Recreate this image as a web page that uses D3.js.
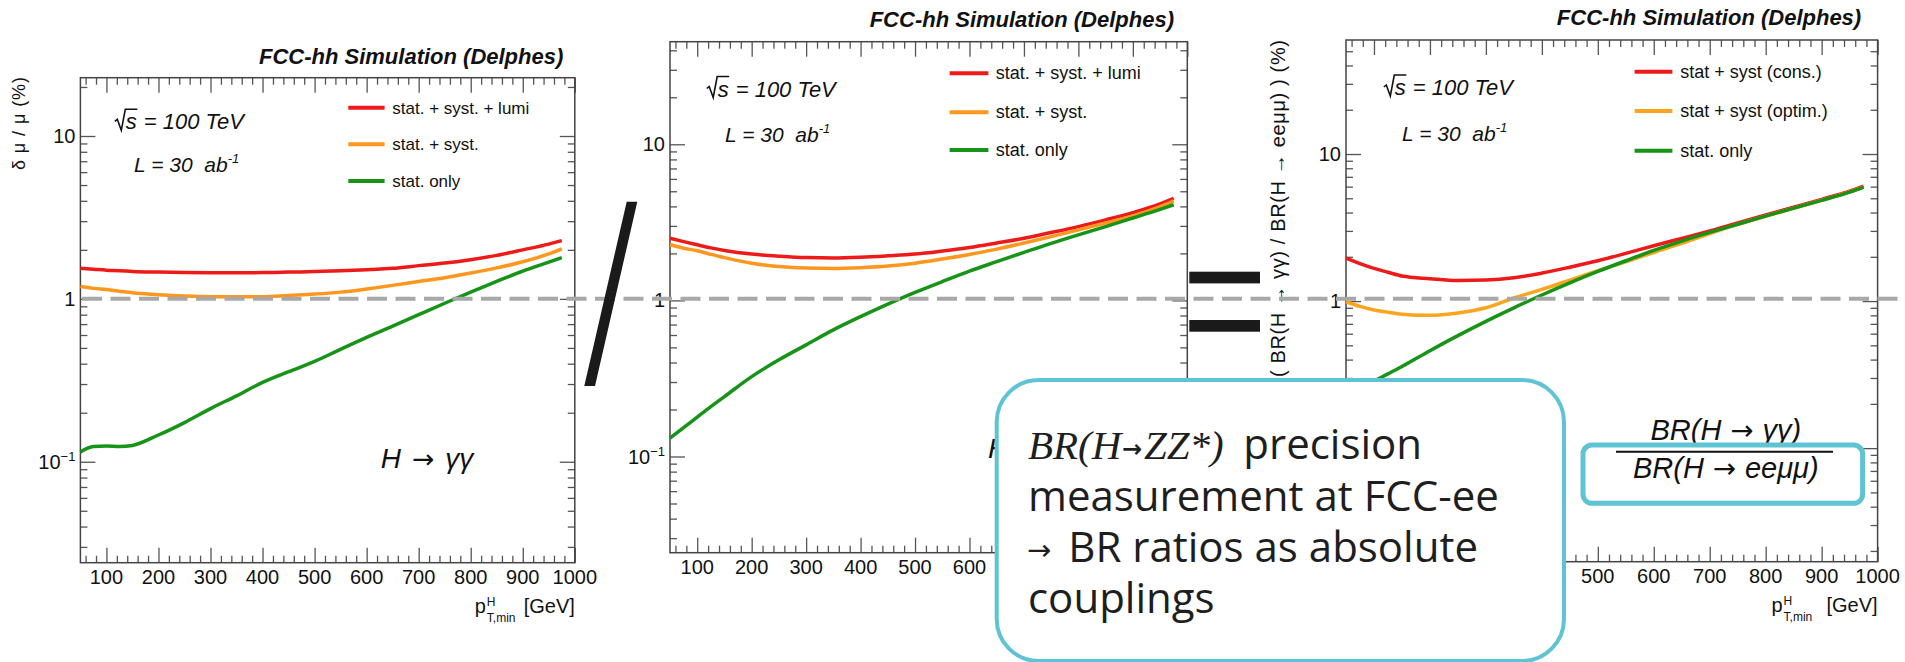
<!DOCTYPE html>
<html>
<head>
<meta charset="utf-8">
<script src="https://cdn.jsdelivr.net/npm/d3@7"></script>
<style>
  body { margin: 0; background: #fff; }
  svg { display: block; }
</style>
</head>
<body>
<div id="chart"></div>
<script>
// ---- data ----
const pT = [50, 75, 100, 125, 150, 200, 250, 300, 350, 400, 450, 500, 550, 600, 650, 700, 750, 800, 850, 900, 950, 975]

// panel 1 : H -> gamma gamma, delta mu / mu (%)
const p1Lumi   = [1.54, 1.52, 1.50, 1.49, 1.475, 1.46, 1.45, 1.445, 1.445, 1.45, 1.46, 1.47, 1.49, 1.51, 1.54, 1.60, 1.66, 1.74, 1.85, 2.00, 2.17, 2.28]
const p1Syst   = [1.19, 1.16, 1.14, 1.115, 1.09, 1.06, 1.04, 1.03, 1.03, 1.03, 1.05, 1.07, 1.10, 1.15, 1.21, 1.28, 1.35, 1.44, 1.55, 1.69, 1.89, 2.03]
const p1Stat   = [0.115, 0.124, 0.125, 0.124, 0.126, 0.146, 0.174, 0.212, 0.254, 0.307, 0.357, 0.413, 0.49, 0.58, 0.68, 0.80, 0.94, 1.10, 1.28, 1.48, 1.68, 1.79]

// panel 2 : second channel
const p2Lumi   = [2.50, 2.38, 2.27, 2.17, 2.09, 1.98, 1.92, 1.88, 1.87, 1.89, 1.93, 1.98, 2.07, 2.18, 2.33, 2.50, 2.72, 2.97, 3.28, 3.65, 4.15, 4.51]
const p2Syst   = [2.27, 2.16, 2.08, 1.97, 1.88, 1.73, 1.65, 1.61, 1.60, 1.62, 1.66, 1.73, 1.84, 1.97, 2.13, 2.33, 2.56, 2.83, 3.13, 3.47, 3.98, 4.34]
const p2Stat   = [0.131, 0.153, 0.179, 0.209, 0.242, 0.325, 0.416, 0.519, 0.647, 0.787, 0.946, 1.125, 1.32, 1.54, 1.77, 2.03, 2.32, 2.63, 2.97, 3.37, 3.83, 4.10]

// panel 3 : ratio BR(H->gg) / BR(H->eemumu)
const p3Cons   = [1.96, 1.80, 1.67, 1.57, 1.48, 1.42, 1.38, 1.39, 1.44, 1.55, 1.70, 1.88, 2.11, 2.38, 2.67, 3.00, 3.40, 3.85, 4.35, 4.92, 5.60, 6.05]
const p3Optim  = [0.99, 0.92, 0.87, 0.84, 0.815, 0.80, 0.83, 0.90, 1.05, 1.20, 1.39, 1.61, 1.85, 2.14, 2.47, 2.88, 3.32, 3.78, 4.28, 4.85, 5.52, 5.98]
const p3Stat   = [0.226, 0.254, 0.286, 0.32, 0.359, 0.460, 0.582, 0.728, 0.90, 1.10, 1.33, 1.59, 1.88, 2.21, 2.56, 2.93, 3.33, 3.78, 4.29, 4.84, 5.50, 5.96]

const xDomain = [50, 1000]
const xMajor = [100, 200, 300, 400, 500, 600, 700, 800, 900, 1000]
const yMajor = [0.1, 1, 10]
const legend12 = ['stat. + syst. + lumi', 'stat. + syst.', 'stat. only']
const legend3 = ['stat + syst (cons.)', 'stat + syst (optim.)', 'stat. only']
const titleText = 'FCC-hh Simulation (Delphes)'
const calloutLines = ['measurement at FCC-ee', 'BR ratios as absolute', 'couplings']

const colors = { red: '#ee1a1a', orange: '#ff961e', orange3: '#f9a51e', green: '#179417' }

const xMinor = d3.range(60, 1000, 20).filter(v => v % 100 !== 0)
const yMinor = []
;[0.01, 0.1, 1, 10].forEach(dec => d3.range(2, 10).forEach(k => yMinor.push(dec * k)))

const sans = '"Liberation Sans", Arial, Helvetica, sans-serif'
const arrowFont = '"DejaVu Sans", sans-serif'

const svg = d3.select('#chart')
  .append('svg')
    .attr('width', 1905)
    .attr('height', 662)
    .style('font-family', sans)

const defs = svg.append('defs')
defs.append('clipPath').attr('id', 'clipY2')
  .append('rect').attr('x', 601).attr('y', 0).attr('width', 60).attr('height', 300)
defs.append('clipPath').attr('id', 'clipH2')
  .append('rect').attr('x', 900).attr('y', 400).attr('width', 96).attr('height', 100)

// "H -> ..." style label, ROOT draws a long arrow
function arrowLabel(g, x, y, size, left, right, gap) {
  const t = g.append('text')
    .attr('x', x).attr('y', y)
    .attr('font-size', size).attr('font-style', 'italic').attr('fill', '#111')
  t.append('tspan').text(left)
  t.append('tspan').attr('dx', gap).attr('font-family', arrowFont).attr('font-style', 'normal')
    .attr('font-size', size * 0.95).text('\u2192')
  t.append('tspan').attr('dx', gap).text(right)
  return t
}

function drawPanel(p) {
  const x = d3.scaleLinear().domain(xDomain).range([p.left, p.right])
  const y = d3.scaleLog().domain(p.yDomain).range([p.bottom, p.top])
  const g = svg.append('g')
  const yMin = yMinor.filter(v => v > p.yDomain[0] && v < p.yDomain[1])

  // ROOT style ticks, pointing inwards, on all four sides
  const ticks = (axisFn, scale, values, size, tr) => {
    g.append('g')
      .attr('transform', tr)
      .call(axisFn(scale).tickValues(values).tickSize(size).tickFormat(() => ''))
      .call(a => a.select('.domain').remove())
      .selectAll('line')
        .attr('stroke', '#555')
        .attr('stroke-width', 1.3)
  }
  ticks(d3.axisBottom, x, xMajor, -15, `translate(0,${p.bottom})`)
  ticks(d3.axisBottom, x, xMinor, -7, `translate(0,${p.bottom})`)
  ticks(d3.axisTop, x, xMajor, -15, `translate(0,${p.top})`)
  ticks(d3.axisTop, x, xMinor, -7, `translate(0,${p.top})`)
  ticks(d3.axisLeft, y, yMajor, -15, `translate(${p.left},0)`)
  ticks(d3.axisLeft, y, yMin, -7, `translate(${p.left},0)`)
  ticks(d3.axisRight, y, yMajor, -15, `translate(${p.right},0)`)
  ticks(d3.axisRight, y, yMin, -7, `translate(${p.right},0)`)

  g.append('rect')
    .attr('x', p.left).attr('y', p.top)
    .attr('width', p.right - p.left).attr('height', p.bottom - p.top)
    .attr('fill', 'none').attr('stroke', '#444').attr('stroke-width', 1.5)

  // tick labels (the ones under the callout box are not drawn)
  g.selectAll('.xlab').data(xMajor.filter(p.showX)).enter().append('text')
    .attr('x', d => x(d)).attr('y', p.bottom + 21.5)
    .attr('text-anchor', 'middle').attr('font-size', 20).attr('fill', '#111')
    .text(d => d)

  const yl = g.selectAll('.ylab').data(yMajor).enter().append('text')
    .attr('x', p.left - 5).attr('y', d => y(d) + 7)
    .attr('text-anchor', 'end').attr('font-size', 20).attr('fill', '#111')
  yl.append('tspan').text(d => d === 0.1 ? '10' : d)
  yl.filter(d => d === 0.1).append('tspan').attr('dy', -8).attr('font-size', 13).text('\u22121')

  // curves
  const line = d3.line()
    .x(d => x(d[0]))
    .y(d => y(d[1]))
    .curve(d3.curveMonotoneX)
  p.series.forEach(s => {
    g.append('path')
      .attr('fill', 'none')
      .attr('stroke', s.color)
      .attr('stroke-width', 3.5)
      .attr('d', line(pT.map((v, i) => [v, s.values[i]])))
  })

  // legend
  p.series.forEach((s, i) => {
    const ly = p.legend.y[i]
    g.append('line')
      .attr('x1', p.legend.x1).attr('x2', p.legend.x2)
      .attr('y1', ly).attr('y2', ly)
      .attr('stroke', s.color).attr('stroke-width', 4)
    g.append('text')
      .attr('x', p.legend.tx).attr('y', ly + 6)
      .attr('font-size', p.legend.size).attr('fill', '#111')
      .text(s.label)
  })

  // title
  g.append('text')
    .attr('x', p.title[0]).attr('y', p.title[1])
    .attr('text-anchor', 'end')
    .attr('font-size', 22).attr('font-weight', 'bold').attr('font-style', 'italic')
    .attr('fill', '#111')
    .text(titleText)

  // sqrt(s) = 100 TeV
  const [sx, sy] = p.sqrt
  g.append('path')
    .attr('d', `M${sx},${sy - 8} l2.5,-2 l4,11 l4,-21 h12`)
    .attr('fill', 'none').attr('stroke', '#111').attr('stroke-width', 1.6)
  g.append('text')
    .attr('x', sx + 11).attr('y', sy)
    .attr('font-size', 22).attr('font-style', 'italic').attr('fill', '#111')
    .text('s')
  g.append('text')
    .attr('x', sx + 29).attr('y', sy)
    .attr('font-size', 22).attr('font-style', 'italic').attr('fill', '#111')
    .text('= 100 TeV')

  // L = 30 ab-1
  const lt = g.append('text')
    .attr('x', p.lumi[0]).attr('y', p.lumi[1])
    .attr('font-size', 21).attr('font-style', 'italic').attr('fill', '#111')
    .style('white-space', 'pre')
  lt.append('tspan').text('L = 30  ab')
  lt.append('tspan').attr('dy', -9).attr('font-size', 13).text('-1')

  // y axis title
  const yt = g.append('text')
    .attr('transform', `translate(${p.ytitle.x},${p.ytitle.y}) rotate(-90)`)
    .attr('text-anchor', 'end')
    .attr('font-size', p.ytitle.size).attr('fill', '#111')
    .attr('textLength', p.ytitle.len).attr('lengthAdjust', 'spacing')
    .text(p.ytitle.text)
  if (p.ytitle.clip) yt.attr('clip-path', p.ytitle.clip)

  // x axis title  p_{T,min}^{H} [GeV]
  if (p.xtitleY) {
    const xr = p.right
    const xb = p.xtitleY
    g.append('text').attr('x', xr).attr('y', xb).attr('text-anchor', 'end')
      .attr('font-size', 20).attr('fill', '#111').text('[GeV]')
    g.append('text').attr('x', xr - p.xtitleOff).attr('y', xb)
      .attr('font-size', 20).attr('fill', '#111').text('p')
    g.append('text').attr('x', xr - p.xtitleOff + 12).attr('y', xb - 7)
      .attr('font-size', 12).attr('fill', '#111').text('H')
    g.append('text').attr('x', xr - p.xtitleOff + 12).attr('y', xb + 9)
      .attr('font-size', 12).attr('fill', '#111').text('T,min')
  }

  return { x, y, g }
}

// panel 2 first, panel 1 sits on top of its left edge
const panel2 = drawPanel({
  left: 670, right: 1187.3, top: 41.7, bottom: 552.7, yDomain: [0.0242, 45.4],
  showX: d => d <= 600,
  series: [
    { values: p2Lumi, color: colors.red, label: legend12[0] },
    { values: p2Syst, color: colors.orange, label: legend12[1] },
    { values: p2Stat, color: colors.green, label: legend12[2] }
  ],
  legend: { x1: 949.6, x2: 988.4, tx: 995.7, y: [73.3, 112.3, 150], size: 18 },
  title: [1174, 26.7], sqrt: [706.7, 96.5], lumi: [725, 141.7],
  ytitle: { x: 613, y: 42, size: 18, len: 98, text: '\u03b4 \u03bc / \u03bc (%)', clip: 'url(#clipY2)' },
  xtitleY: null
})
// only the first letter of the panel 2 label peeks out from under the callout box
panel2.g.append('text')
  .attr('x', 988).attr('y', 458)
  .attr('font-size', 28).attr('font-style', 'italic').attr('fill', '#111')
  .attr('clip-path', 'url(#clipH2)')
  .text('H')

const panel1 = drawPanel({
  left: 80.4, right: 574.8, top: 77.7, bottom: 562.7, yDomain: [0.024, 22.8],
  showX: () => true,
  series: [
    { values: p1Lumi, color: colors.red, label: legend12[0] },
    { values: p1Syst, color: colors.orange, label: legend12[1] },
    { values: p1Stat, color: colors.green, label: legend12[2] }
  ],
  legend: { x1: 348.3, x2: 384.6, tx: 392.3, y: [107.7, 144.3, 181], size: 17 },
  title: [563.3, 64], sqrt: [114.8, 129.3], lumi: [134, 171.7],
  ytitle: { x: 25, y: 77, size: 18, len: 93, text: '\u03b4 \u03bc / \u03bc (%)' },
  xtitleY: 613, xtitleOff: 100
})
arrowLabel(panel1.g, 380.8, 468.3, 28, 'H', '\u03b3\u03b3', 11)

const panel3 = drawPanel({
  left: 1346, right: 1877.6, top: 40, bottom: 561.7, yDomain: [0.0169, 59.6],
  showX: d => d >= 500,
  series: [
    { values: p3Cons, color: colors.red, label: legend3[0] },
    { values: p3Optim, color: colors.orange3, label: legend3[1] },
    { values: p3Stat, color: colors.green, label: legend3[2] }
  ],
  legend: { x1: 1634.6, x2: 1672.4, tx: 1680.2, y: [71.7, 111, 150.7], size: 18 },
  title: [1861.2, 25], sqrt: [1383.8, 95], lumi: [1402, 140.7],
  ytitle: { x: 1285, y: 40, size: 20, len: 355, text: '\u03b4 ( BR(H \u2192 \u03b3\u03b3) / BR(H \u2192 ee\u03bc\u03bc) ) (%)' },
  xtitleY: 612, xtitleOff: 106
})

// ratio label with its highlight box
arrowLabel(panel3.g, 1725.8, 440, 29, 'BR(H', '\u03b3\u03b3)', 9).attr('text-anchor', 'middle')
panel3.g.append('line').attr('x1', 1616).attr('x2', 1833).attr('y1', 451.7).attr('y2', 451.7)
  .attr('stroke', '#111').attr('stroke-width', 2)
arrowLabel(panel3.g, 1725.8, 478, 29, 'BR(H', 'ee\u03bc\u03bc)', 9).attr('text-anchor', 'middle')
panel3.g.append('rect')
  .attr('x', 1583).attr('y', 445).attr('width', 279.6).attr('height', 58.3).attr('rx', 9)
  .attr('fill', 'none').attr('stroke', '#5ec4d3').attr('stroke-width', 5)

// slide overlay: dashed line at 1 %, slash and equals sign
svg.append('line')
  .attr('x1', 82).attr('x2', 1905).attr('y1', 298.8).attr('y2', 298.8)
  .attr('stroke', '#a8a8a8').attr('stroke-width', 4).attr('stroke-dasharray', '20 8.5')

svg.append('path')
  .attr('d', 'M626.7,201.7 L637.3,201.7 L595,386 L584.3,386 Z')
  .attr('fill', '#1a1a1a')
svg.selectAll('.eq').data([271.7, 320]).enter().append('rect')
  .attr('x', 1189.3).attr('y', d => d).attr('width', 70.7).attr('height', 11.7)
  .attr('fill', '#1a1a1a')

// callout box
const co = svg.append('g').attr('fill', '#1e1e1e')
co.append('rect')
  .attr('x', 996.7).attr('y', 380).attr('width', 567.3).attr('height', 281).attr('rx', 42)
  .attr('fill', '#fff').attr('stroke', '#5ec4d3').attr('stroke-width', 4)
const serif = '"Liberation Serif", "DejaVu Serif", serif'
co.append('text').attr('x', 1028).attr('y', 459)
  .attr('font-family', serif).attr('font-style', 'italic').attr('font-size', 41)
  .text('BR(H')
co.append('text').attr('x', 1122).attr('y', 457)
  .attr('font-family', arrowFont).attr('font-weight', 'bold').attr('font-size', 24)
  .text('\u2192')
co.append('text').attr('x', 1144).attr('y', 459)
  .attr('font-family', serif).attr('font-style', 'italic').attr('font-size', 41)
  .text('ZZ*)')
co.append('text').attr('x', 1243.3).attr('y', 459)
  .attr('font-family', '"Open Sans", "Noto Sans", sans-serif').attr('font-size', 42)
  .text('precision')
co.append('text').attr('x', 1027).attr('y', 560)
  .attr('font-family', arrowFont).attr('font-size', 29)
  .text('\u2192')
co.selectAll('.cl').data(calloutLines).enter().append('text')
  .attr('x', (d, i) => i === 1 ? 1068.3 : 1028)
  .attr('y', (d, i) => [511, 562, 613][i])
  .attr('font-family', '"Open Sans", "Noto Sans", sans-serif')
  .attr('font-size', 42)
  .text(d => d)
</script>
</body>
</html>
